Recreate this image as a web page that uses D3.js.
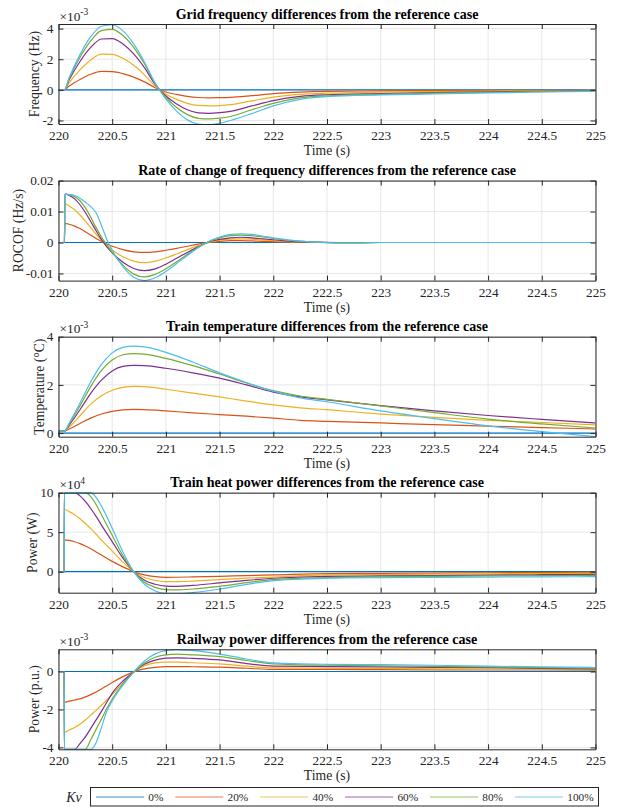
<!DOCTYPE html>
<html><head><meta charset="utf-8">
<script src="https://cdn.jsdelivr.net/npm/d3@7"></script>
<style>
body{margin:0;background:#fff;}
svg{display:block;font-family:"Liberation Serif","Times New Roman",serif;}
</style></head>
<body><svg id="c" width="618" height="807"></svg>
<script>
// ---------- data ----------
const seriesNames = ["0%","20%","40%","60%","80%","100%"];
const colors = ["#0072BD","#D95319","#EDB120","#7E2F8E","#77AC30","#4DBEEE"];
const xTicks = [220,220.5,221,221.5,222,222.5,223,223.5,224,224.5,225];

// Panel 1: grid frequency (x1e-3 Hz)
const freqT = [220,220.055,220.1,220.2,220.3,220.4,220.5,220.6,220.7,220.8,220.9,221,221.1,221.2,221.3,221.4,221.5,221.6,221.8,222,222.25,222.5,223,223.5,224,224.5,225];
const freq0 = [0,0,0,0,0,0,0,0,0,0,0,0,0,0,0,0,0,0,0,0,0,0,0,0,0,0,0];
const freq20 = [0,0,0.25,0.68,1.02,1.2,1.19,1.06,0.83,0.52,0.14,-0.14,-0.3,-0.43,-0.5,-0.52,-0.51,-0.49,-0.38,-0.25,-0.15,-0.1,-0.07,-0.05,-0.04,-0.03,-0.02];
const freq40 = [0,0,0.47,1.3,1.95,2.33,2.32,2.06,1.6,0.98,0.25,-0.28,-0.62,-0.88,-1.02,-1.05,-1.03,-0.97,-0.72,-0.48,-0.3,-0.22,-0.15,-0.11,-0.08,-0.06,-0.04];
const freq60 = [0,0,0.66,1.85,2.77,3.32,3.35,3.0,2.35,1.45,0.36,-0.4,-0.92,-1.3,-1.5,-1.53,-1.49,-1.4,-1.05,-0.7,-0.43,-0.32,-0.24,-0.18,-0.13,-0.09,-0.06];
const freq80 = [0,0,0.75,2.13,3.2,3.87,3.95,3.55,2.78,1.7,0.42,-0.5,-1.15,-1.62,-1.86,-1.9,-1.85,-1.74,-1.3,-0.88,-0.52,-0.39,-0.29,-0.22,-0.16,-0.11,-0.07];
const freq100 = [0,0,0.8,2.3,3.47,4.15,4.25,3.85,3.0,1.82,0.43,-0.61,-1.39,-1.96,-2.23,-2.27,-2.18,-2.0,-1.55,-1.05,-0.62,-0.45,-0.33,-0.27,-0.2,-0.14,-0.09];
const freqTicks = [-2,0,2,4];
const freqLim = [-2.23,4.3];

// Panel 2: ROCOF (Hz/s)
const rocT = [220,220.055,220.06,220.1,220.15,220.2,220.25,220.3,220.35,220.4,220.45,220.5,220.6,220.7,220.8,220.9,221,221.1,221.2,221.3,221.4,221.5,221.6,221.7,221.8,221.9,222,222.2,222.4,222.6,222.8,223,225];
const roc0 = [0,0,0,0,0,0,0,0,0,0,0,0,0,0,0,0,0,0,0,0,0,0,0,0,0,0,0,0,0,0,0,0,0];
const roc20 = [0,0,0.0062,0.0059,0.0053,0.0045,0.0035,0.0024,0.0013,0.0003,-0.0005,-0.0012,-0.0023,-0.003,-0.0032,-0.003,-0.0025,-0.0019,-0.0012,-0.0005,0,0.0004,0.0006,0.0006,0.0005,0.0004,0.0003,0.0001,0,0,0,0,0];
const roc40 = [0,0,0.0124,0.0118,0.0106,0.0089,0.0069,0.0048,0.0027,0.0007,-0.001,-0.0024,-0.0046,-0.006,-0.0065,-0.006,-0.005,-0.0037,-0.0023,-0.001,0.0001,0.0008,0.0011,0.0012,0.0011,0.0008,0.0006,0.0002,0.0001,0,0,0,0];
const roc60 = [0,0,0.0156,0.0152,0.0141,0.0122,0.0097,0.0068,0.0038,0.001,-0.0014,-0.0033,-0.0064,-0.0084,-0.0091,-0.0085,-0.007,-0.0051,-0.0032,-0.0014,0.0002,0.001,0.0015,0.0017,0.0015,0.0012,0.0009,0.0003,0.0001,0,0,0,0];
const roc80 = [0,0,0.0156,0.0155,0.0148,0.0135,0.0112,0.0082,0.0048,0.0018,-0.0008,-0.0032,-0.0073,-0.0102,-0.0111,-0.0103,-0.0085,-0.0062,-0.0038,-0.0016,0.0003,0.0015,0.0022,0.0024,0.0022,0.0018,0.0013,0.0005,0.0001,-0.0001,-0.0001,0,0];
const roc100 = [0,0,0.0156,0.0155,0.0152,0.0143,0.013,0.0116,0.0096,0.0055,0.001,-0.0025,-0.0078,-0.0112,-0.0123,-0.0114,-0.0094,-0.0068,-0.0042,-0.0017,0.0004,0.0018,0.0026,0.0028,0.0026,0.0021,0.0015,0.0006,0.0001,-0.0002,-0.0002,0,0];
const rocTicks = [-0.01,0,0.01,0.02];
const rocLim = [-0.0123,0.02];

// Panel 3: train temperature (x1e-3 °C)
const tempT = [220,220.055,220.1,220.2,220.3,220.4,220.5,220.6,220.7,220.8,221,221.25,221.5,221.75,222,222.25,222.5,223,223.5,224,224.5,225];
const temp0 = [0,0,0,0,0,0,0,0,0,0,0,0,0,0,0,0,0,0,0,0,0,0];
const temp20 = [0.08,0.08,0.17,0.4,0.62,0.79,0.9,0.96,0.98,0.97,0.92,0.84,0.77,0.7,0.62,0.53,0.49,0.42,0.35,0.29,0.23,0.17];
const temp40 = [0.08,0.08,0.25,0.72,1.2,1.55,1.78,1.9,1.94,1.93,1.82,1.66,1.5,1.33,1.17,1.05,0.97,0.79,0.65,0.53,0.44,0.34];
const temp60 = [0.08,0.08,0.33,0.97,1.65,2.2,2.58,2.77,2.81,2.8,2.69,2.5,2.28,2.0,1.7,1.5,1.38,1.14,0.92,0.73,0.57,0.42];
const temp80 = [0.08,0.08,0.38,1.13,1.93,2.6,3.03,3.25,3.3,3.28,3.1,2.8,2.45,2.08,1.76,1.54,1.4,1.13,0.85,0.58,0.38,0.21];
const temp100 = [0.08,0.08,0.42,1.25,2.12,2.85,3.33,3.56,3.61,3.58,3.35,2.95,2.5,2.1,1.74,1.46,1.3,0.92,0.6,0.3,0.06,-0.15];
const tempTicks = [0,2,4];
const tempLim = [-0.15,4];

// Panel 4: train heat power (x1e4 W)
const heatT = [220,220.053,220.055,220.1,220.15,220.2,220.25,220.3,220.35,220.4,220.5,220.6,220.7,220.8,220.9,221,221.1,221.25,221.5,221.75,222,222.5,223,223.5,224,224.5,225];
const heat0 = [0,0,0,0,0,0,0,0,0,0,0,0,0,0,0,0,0,0,0,0,0,0,0,0,0,0,0];
const heat20 = [0,0,4.03,3.95,3.78,3.55,3.25,2.9,2.5,2.1,1.3,0.6,0,-0.42,-0.64,-0.72,-0.71,-0.67,-0.59,-0.5,-0.42,-0.25,-0.22,-0.18,-0.14,-0.11,-0.08];
const heat40 = [0,0,7.84,7.6,7.2,6.7,6.1,5.45,4.75,4.0,2.6,1.2,0,-0.75,-1.12,-1.26,-1.27,-1.2,-1.01,-0.83,-0.68,-0.42,-0.38,-0.33,-0.28,-0.24,-0.21];
const heat60 = [0,0,10,10,10,9.6,8.9,8.0,7.0,5.9,3.8,1.7,0,-1.1,-1.6,-1.83,-1.86,-1.75,-1.43,-1.1,-0.84,-0.59,-0.55,-0.5,-0.44,-0.39,-0.34];
const heat80 = [0,0,10,10,10,10,10,9.5,8.5,7.2,4.6,2.0,0,-1.35,-2.0,-2.28,-2.32,-2.2,-1.86,-1.4,-1.01,-0.76,-0.66,-0.6,-0.55,-0.51,-0.47];
const heat100 = [0,0,10,10,10,10,10,10,9.4,8.3,5.5,2.5,0,-1.6,-2.45,-2.78,-2.82,-2.65,-2.2,-1.62,-1.14,-0.84,-0.76,-0.72,-0.69,-0.66,-0.64];
const heatTicks = [0,5,10];
const heatLim = [-2.67,10];

// Panel 5: railway power (x1e-3 p.u.)
const railT = [220,220.053,220.055,220.1,220.15,220.2,220.25,220.3,220.35,220.4,220.45,220.5,220.6,220.7,220.8,220.9,221,221.1,221.25,221.5,221.75,222,222.5,223,223.5,224,224.5,225];
const rail0 = [0,0,0,0,0,0,0,0,0,0,0,0,0,0,0,0,0,0,0,0,0,0,0,0,0,0,0,0];
const rail20 = [0,0,-1.63,-1.56,-1.5,-1.44,-1.34,-1.22,-1.08,-0.92,-0.75,-0.58,-0.27,-0.02,0.14,0.22,0.26,0.26,0.25,0.23,0.17,0.11,0.11,0.1,0.09,0.08,0.08,0.07];
const rail40 = [0,0,-3.2,-3.08,-2.95,-2.78,-2.56,-2.3,-2.05,-1.78,-1.5,-1.2,-0.6,-0.04,0.3,0.45,0.49,0.49,0.46,0.4,0.28,0.19,0.17,0.16,0.14,0.13,0.11,0.1];
const rail60 = [0,0,-4.1,-4.1,-4.1,-3.8,-3.45,-3.0,-2.55,-2.1,-1.62,-1.15,-0.5,-0.03,0.38,0.6,0.7,0.72,0.69,0.61,0.42,0.28,0.26,0.24,0.22,0.2,0.17,0.14];
const rail80 = [0,0,-4.1,-4.1,-4.1,-4.1,-4.1,-3.6,-3.05,-2.5,-1.95,-1.45,-0.65,-0.03,0.45,0.75,0.88,0.92,0.88,0.78,0.58,0.4,0.33,0.3,0.27,0.24,0.2,0.17];
const rail100 = [0,0,-4.1,-4.1,-4.1,-4.1,-4.1,-4.1,-3.75,-2.95,-2.1,-1.55,-0.72,-0.03,0.55,0.93,1.1,1.15,1.1,0.92,0.66,0.45,0.38,0.36,0.33,0.28,0.24,0.21];
const railTicks = [-4,-2,0];
const railLim = [-4.1,1.17];

// ---------- drawing ----------
const svg = d3.select("#c");
const left = 58.5, right = 595.5, ph = 100;
const x = d3.scaleLinear().domain([220,225]).range([left,right]);
const ink = "#262626";

const panels = [
  {title:"Grid frequency differences from the reference case", ylabel:"Frequency (Hz)", exp:"-3", top:24, lim:freqLim, ticks:freqTicks, t:freqT, series:[freq0,freq20,freq40,freq60,freq80,freq100]},
  {title:"Rate of change of frequency differences from the reference case", ylabel:"ROCOF (Hz/s)", exp:null, top:180.6, lim:rocLim, ticks:rocTicks, t:rocT, series:[roc0,roc20,roc40,roc60,roc80,roc100]},
  {title:"Train temperature differences from the reference case", ylabel:"Temperature (\u00B0C)", exp:"-3", top:336.7, lim:tempLim, ticks:tempTicks, t:tempT, series:[temp0,temp20,temp40,temp60,temp80,temp100]},
  {title:"Train heat power differences from the reference case", ylabel:"Power (W)", exp:"4", top:492.7, lim:heatLim, ticks:heatTicks, t:heatT, series:[heat0,heat20,heat40,heat60,heat80,heat100]},
  {title:"Railway power differences from the reference case", ylabel:"Power (p.u.)", exp:"-3", top:649.3, lim:railLim, ticks:railTicks, t:railT, series:[rail0,rail20,rail40,rail60,rail80,rail100]}
];

const defs = svg.append("defs");

panels.forEach((p,i)=>{
  const top = p.top, bot = p.top + ph;
  const y = d3.scaleLinear().domain(p.lim).range([bot, top]);
  const g = svg.append("g");

  defs.append("clipPath").attr("id","clip"+i).append("rect")
    .attr("x",left).attr("y",top-1).attr("width",right-left).attr("height",ph+2);

  // grid
  const grid = g.append("g").attr("stroke","#e4e4e4").attr("stroke-width",0.9);
  grid.selectAll("line.gx").data(xTicks).join("line").attr("class","gx")
    .attr("x1",d=>x(d)).attr("x2",d=>x(d)).attr("y1",top).attr("y2",bot);
  grid.selectAll("line.gy").data(p.ticks).join("line").attr("class","gy")
    .attr("x1",left).attr("x2",right).attr("y1",d=>y(d)).attr("y2",d=>y(d));

  // lines
  const line = d3.line().x((d,j)=>x(p.t[j])).y(d=>y(d)).curve(d3.curveMonotoneX);
  g.append("g").attr("clip-path",`url(#clip${i})`)
    .selectAll("path").data(p.series).join("path")
    .attr("d",line).attr("fill","none")
    .attr("stroke",(d,k)=>colors[k]).attr("stroke-width",1.2);

  // axes
  const fmt = d=>String(d);
  const xb = g.append("g").attr("transform",`translate(0,${bot})`)
    .call(d3.axisBottom(x).tickValues(xTicks).tickFormat(fmt).tickSizeInner(-5).tickSizeOuter(0).tickPadding(6.5));
  const xt = g.append("g").attr("transform",`translate(0,${top})`)
    .call(d3.axisTop(x).tickValues(xTicks).tickFormat("").tickSizeInner(-5).tickSizeOuter(0));
  const yl = g.append("g").attr("transform",`translate(${left},0)`)
    .call(d3.axisLeft(y).tickValues(p.ticks).tickFormat(fmt).tickSizeInner(-5).tickSizeOuter(0).tickPadding(5));
  const yr = g.append("g").attr("transform",`translate(${right},0)`)
    .call(d3.axisRight(y).tickValues(p.ticks).tickFormat("").tickSizeInner(-5).tickSizeOuter(0));
  [xb,xt,yl,yr].forEach(a=>{
    a.select(".domain").attr("stroke",ink).attr("stroke-width",1);
    a.selectAll(".tick line").attr("stroke",ink).attr("stroke-width",1);
    a.selectAll("text").attr("fill",ink).style("font-size","13.3px").style("font-family",'"Liberation Serif",serif');
  });

  // tick label width for ylabel placement
  let maxW = 0;
  yl.selectAll("text").each(function(){ maxW = Math.max(maxW, this.getComputedTextLength()); });
  const labX = left - 5 - maxW - 7.5;

  g.append("text").attr("transform",`translate(${labX},${(top+bot)/2}) rotate(-90)`)
    .attr("text-anchor","middle").attr("dominant-baseline","central")
    .attr("fill",ink).style("font-size","13.7px").text(p.ylabel);

  g.append("text").attr("x",(left+right)/2).attr("y",bot+31)
    .attr("text-anchor","middle").attr("fill",ink).style("font-size","13.7px").text("Time (s)");

  g.append("text").attr("x",(left+right)/2).attr("y",top-5.5)
    .attr("text-anchor","middle").attr("fill","#000").style("font-weight","bold").style("font-size","14px").text(p.title);

  if (p.exp) {
    const e = g.append("text").attr("x",left+1).attr("y",top-3.5).attr("fill",ink).style("font-size","13.3px");
    e.append("tspan").text("\u00D710");
    e.append("tspan").attr("dy",-5.5).style("font-size","9.5px").text(p.exp);
  }
});

// legend
const leg = svg.append("g");
leg.append("rect").attr("x",90.5).attr("y",787.5).attr("width",508).attr("height",18.5)
  .attr("fill","#fff").attr("stroke",ink).attr("stroke-width",1);
leg.append("text").attr("x",74).attr("y",801.5).attr("text-anchor","middle")
  .attr("fill",ink).style("font-style","italic").style("font-size","14px").text("Kv");
let lx = 96;
seriesNames.forEach((n,k)=>{
  leg.append("line").attr("x1",lx).attr("x2",lx+48).attr("y1",797).attr("y2",797)
    .attr("stroke",colors[k]).attr("stroke-width",1.2).attr("stroke-opacity",0.75);
  const t = leg.append("text").attr("x",lx+52.3).attr("y",801).attr("fill",ink)
    .style("font-size","11.3px").text(n);
  lx = lx + 52.3 + t.node().getComputedTextLength() + 11.9;
});
</script>
</body></html>
